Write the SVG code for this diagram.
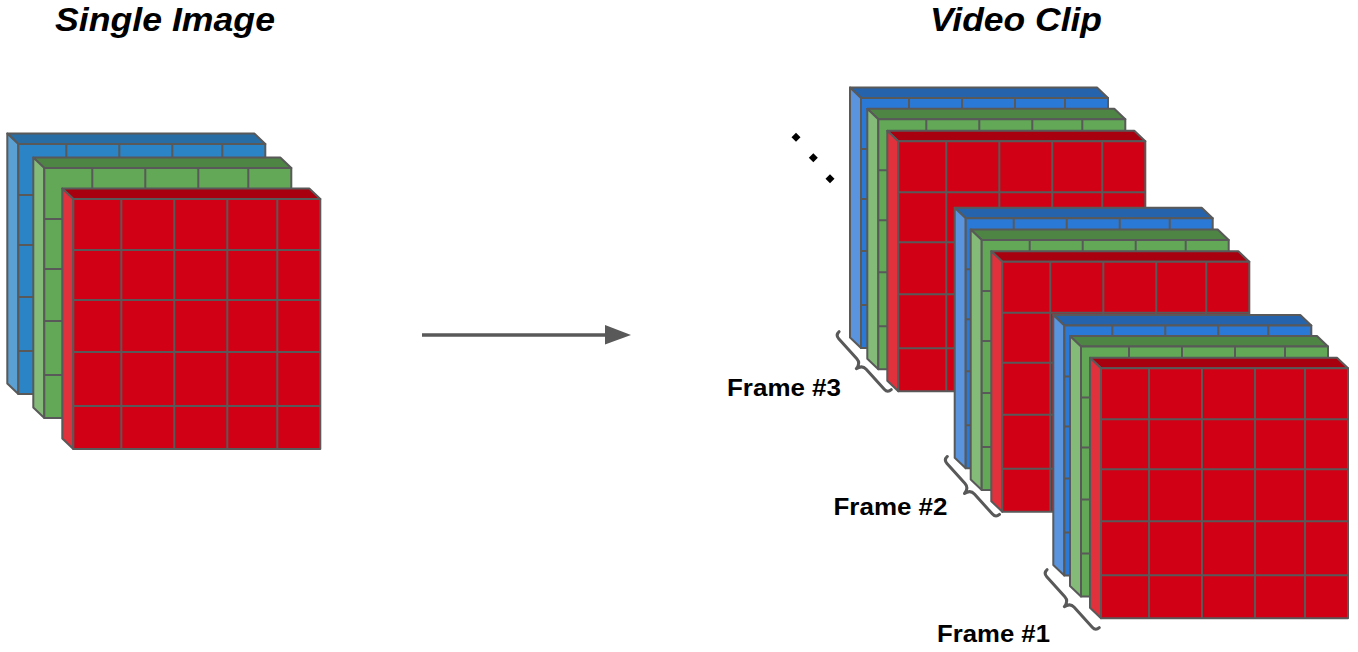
<svg xmlns="http://www.w3.org/2000/svg" xmlns:xlink="http://www.w3.org/1999/xlink" width="1358" height="652" viewBox="0 0 1358 652">
<style>
.edge{stroke:#595959;stroke-width:2;stroke-linejoin:round}
.gridl{fill:none;stroke:#595959;stroke-width:2}
.title{font-family:"Liberation Sans",Arial,sans-serif;font-size:34px;font-weight:bold;font-style:italic;fill:#000;text-anchor:middle}
.label{font-family:"Liberation Sans",Arial,sans-serif;font-size:24.5px;font-weight:bold;fill:#000}
.brace{fill:none;stroke:#595959;stroke-width:3;stroke-linecap:round;stroke-linejoin:round}
.conn{stroke:#595959;stroke-width:3.3;fill:none}
</style>
<defs>
<path id="grid" class="gridl" d="M48,0V250M101,0V250M154,0V250M204,0V250M0,51H247M0,101H247M0,153H247M0,207H247"/>
<g id="layer-red">
<polygon class="edge" fill="#A8000F" points="-11,-10.5 236,-10.5 247,0 0,0"/>
<polygon class="edge" fill="#E0313C" points="-11,-10.5 0,0 0,250 -11,239.5"/>
<rect class="edge" fill="#D20014" x="0" y="0" width="247" height="250"/>
<use xlink:href="#grid"/>
</g>
<g id="layer-green">
<polygon class="edge" fill="#4E8544" points="-11,-10.5 236,-10.5 247,0 0,0"/>
<polygon class="edge" fill="#84BB78" points="-11,-10.5 0,0 0,250 -11,239.5"/>
<rect class="edge" fill="#62A857" x="0" y="0" width="247" height="250"/>
<use xlink:href="#grid"/>
</g>
<g id="layer-blue">
<polygon class="edge" fill="#286DA3" points="-11,-10.5 236,-10.5 247,0 0,0"/>
<polygon class="edge" fill="#5BA0D2" points="-11,-10.5 0,0 0,250 -11,239.5"/>
<rect class="edge" fill="#2A84C6" x="0" y="0" width="247" height="250"/>
<use xlink:href="#grid"/>
</g>
<g id="layer-blue2">
<polygon class="edge" fill="#2563AD" points="-11,-10.5 236,-10.5 247,0 0,0"/>
<polygon class="edge" fill="#5A94DE" points="-11,-10.5 0,0 0,250 -11,239.5"/>
<rect class="edge" fill="#2A79D6" x="0" y="0" width="247" height="250"/>
<use xlink:href="#grid"/>
</g>
<path id="bracepath" class="brace" d="M5,-39Q0,-39 0,-34L0,-7Q0,-1 -7,0Q0,1 0,7L0,34Q0,39 5,39"/>
</defs>

<g id="title-single"><text class="title" x="165" y="31" textLength="220" lengthAdjust="spacingAndGlyphs">Single Image</text></g>
<g id="title-video"><text class="title" x="1016" y="31" textLength="172" lengthAdjust="spacingAndGlyphs">Video Clip</text></g>

<g id="single-image">
<use xlink:href="#layer-blue" x="18.3" y="144"/>
<use xlink:href="#layer-green" x="44.3" y="168"/>
<use xlink:href="#layer-red" x="73.3" y="199"/>
</g>

<g id="connectors">
<line class="conn" x1="422" y1="335" x2="607" y2="335"/>
<polygon fill="#595959" points="605,325 631,335 605,344.5"/>
</g>

<g id="dots">
<polygon fill="#000" points="796,132.8 800.5,137.3 796,141.8 791.5,137.3"/>
<polygon fill="#000" points="813.3,153.2 817.8,157.7 813.3,162.2 808.8,157.7"/>
<polygon fill="#000" points="830,174.2 834.5,178.7 830,183.2 825.5,178.7"/>
</g>

<g id="frame3">
<use xlink:href="#layer-blue2" x="861" y="98"/>
<use xlink:href="#layer-green" x="878.3" y="119.3"/>
<use xlink:href="#layer-red" x="898.3" y="141.3"/>
</g>
<g id="frame2">
<use xlink:href="#layer-blue2" x="965.7" y="218.3"/>
<use xlink:href="#layer-green" x="981.7" y="240"/>
<use xlink:href="#layer-red" x="1002.3" y="261.7"/>
</g>
<g id="frame1">
<use xlink:href="#layer-blue2" x="1064.3" y="325.5"/>
<use xlink:href="#layer-green" x="1081" y="346.5"/>
<use xlink:href="#layer-red" x="1101" y="368.3"/>
</g>

<g id="label-frame3">
<use xlink:href="#bracepath" transform="translate(861.5,364) rotate(-42)"/>
<text class="label" x="727" y="396" textLength="114" lengthAdjust="spacingAndGlyphs">Frame #3</text>
</g>
<g id="label-frame2">
<use xlink:href="#bracepath" transform="translate(969.7,488.8) rotate(-42)"/>
<text class="label" x="833.5" y="514.5" textLength="114" lengthAdjust="spacingAndGlyphs">Frame #2</text>
</g>
<g id="label-frame1">
<use xlink:href="#bracepath" transform="translate(1069.5,602) rotate(-42)"/>
<text class="label" x="937" y="642" textLength="113" lengthAdjust="spacingAndGlyphs">Frame #1</text>
</g>
</svg>
